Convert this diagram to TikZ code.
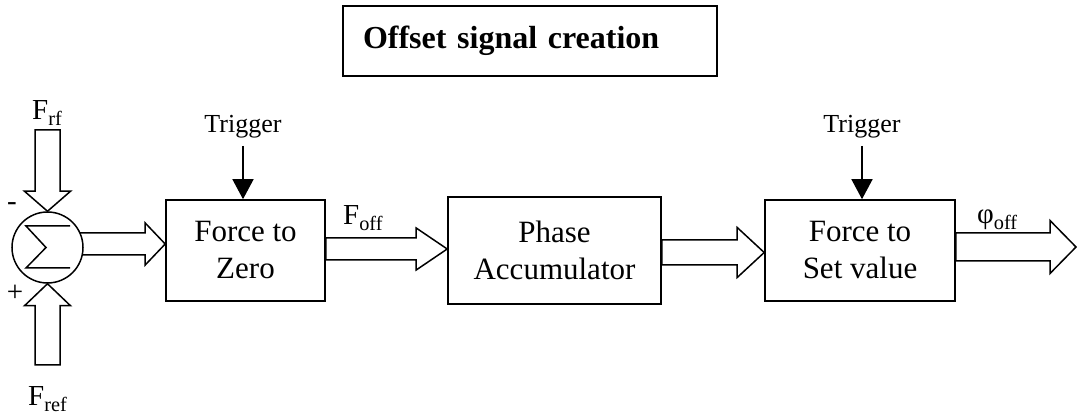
\documentclass[tikz,border=0pt]{standalone}
\usepackage{fontspec}
\setmainfont{Liberation Serif}
\usetikzlibrary{calc,arrows.meta,backgrounds}

% Hollow block arrow: #1 start, #2 tip, #3 head length, #4 shaft half-width, #5 head half-width
\newcommand\blockarrow[5]{%
  \coordinate (ba-h) at ($(#2)!#3!(#1)$);
  \draw[blockline]
    ($(#1)!#4!90:(#2)$) -- ($(ba-h)!#4!90:(#2)$) -- ($(ba-h)!#5!90:(#2)$) --
    (#2) --
    ($(ba-h)!#5!-90:(#2)$) -- ($(ba-h)!#4!-90:(#2)$) -- ($(#1)!#4!-90:(#2)$) -- cycle;
}

\tikzset{
  blockline/.style={draw=black, fill=white, line width=1.5pt, line join=miter},
  blockbox/.style={draw=black, fill=white, line width=1.6pt, align=center,
    inner sep=0pt, font=\fontsize{31}{37}\selectfont},
  trig/.style={font=\fontsize{26}{30}\selectfont, inner sep=0pt},
  lbl/.style={font=\fontsize{29}{34}\selectfont, inner sep=0pt},
  trigarrow/.style={line width=1.5pt, -{Triangle[length=20pt,width=21pt]}},
}

\begin{document}
\begin{tikzpicture}[x=1pt, y=-1pt]
  \useasboundingbox (0,0) rectangle (1077,419);

  % title
  \node[draw=black, line width=1.6pt, minimum height=70pt, inner xsep=20pt, inner ysep=0pt,
        text width=334pt, align=left, font=\fontsize{32}{38}\selectfont\bfseries]
        (title) at (530,41) {Offset signal creation};

  % summing junction
  \node[circle, draw=black, fill=white, line width=1.5pt, minimum size=71pt, inner sep=0pt]
        (sum) at (47.5,247.5) {};
  \draw[line width=1.5pt, line join=miter]
    ($(sum)+(22.5,-21.5)$) -- ($(sum)+(-21.5,-21.5)$) -- ($(sum)+(-1.5,0)$) --
    ($(sum)+(-21.5,20.5)$) -- ($(sum)+(22.5,20.5)$);

  % processing blocks
  \node[blockbox, minimum width=159pt, minimum height=101pt] (fz) at (245.5,250.5) {Force to\\Zero};
  \node[blockbox, minimum width=213pt, minimum height=107pt] (pa) at (554.5,250.5) {Phase\\Accumulator};
  \node[blockbox, minimum width=190pt, minimum height=101pt] (fs) at (860,250.5) {Force to\\Set value};

  % free ends of the signal arrows
  \coordinate (frf) at (47.5,130);
  \coordinate (fref) at (47.5,365);
  \coordinate (out) at (1076,247);

  \begin{scope}[on background layer]
    \blockarrow{frf}{sum.north}{20pt}{12.5pt}{23pt}
    \blockarrow{fref}{sum.south}{22pt}{12.5pt}{23pt}
    \blockarrow{$(sum.center)+(0,-3.5)$}{$(fz.west)+(0,-6.5)$}{20pt}{11pt}{21pt}
    \blockarrow{$(fz.east)+(0,-1.5)$}{$(pa.west)+(0,-1.5)$}{31pt}{11pt}{21pt}
    \blockarrow{$(pa.east)+(0,2)$}{$(fs.west)+(0,2)$}{27pt}{12.5pt}{25pt}
    \blockarrow{$(fs.east)+(0,-3.5)$}{out}{26pt}{14pt}{26.5pt}
  \end{scope}

  % signal labels
  \node[lbl, anchor=base west] (lrf) at (32,120) {F\textsubscript{rf}};
  \node[lbl, anchor=base west] (lref) at (28,406) {F\textsubscript{ref}};
  \node[lbl] (minus) at (12,207) {-};
  \node[lbl] (plus) at (15,293) {+};
  \node[lbl, anchor=base west] (loff) at (343,225) {F\textsubscript{off}};
  \node[lbl, anchor=base west] (lphi) at (977,224) {φ\textsubscript{off}};

  % trigger inputs
  \node[trig, anchor=base] (t1) at (243,133) {Trigger};
  \node[trig, anchor=base] (t2) at (862,133) {Trigger};
  \draw[trigarrow] ($(t1.south)+(0,7)$) -- (t1.south |- fz.north);
  \draw[trigarrow] ($(t2.south)+(0,7)$) -- (t2.south |- fs.north);
\end{tikzpicture}
\end{document}
